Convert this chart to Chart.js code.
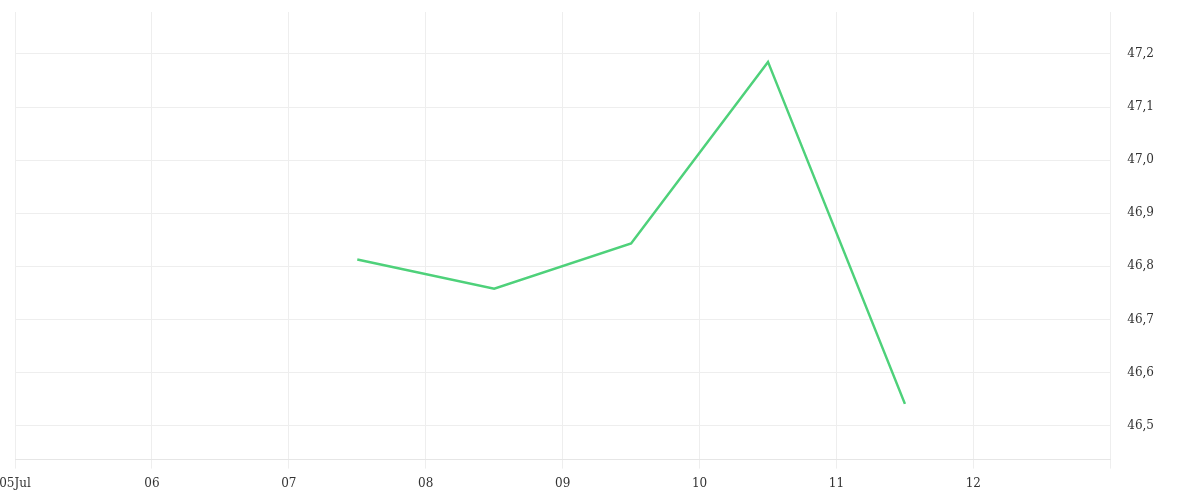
<!DOCTYPE html>
<html>
<head>
<meta charset="utf-8">
<script src="https://cdn.jsdelivr.net/npm/chart.js@4"></script>
<style>
  html, body { margin: 0; padding: 0; background: #fff; }
  #wrap { width: 1200px; height: 500px; }
</style>
</head>
<body>
<div id="wrap"><canvas id="chart"></canvas></div>
<script>
// day of July (12:00 = .5)
const days = [7.5, 8.5, 9.5, 10.5, 11.5];
const prices = [46.813, 46.758, 46.843, 47.185, 46.541];
const dayLabels = ['05Jul', '06', '07', '08', '09', '10', '11', '12'];

const points = days.map((d, i) => ({ x: d, y: prices[i] }));

const ctx = document.getElementById('chart');
new Chart(ctx, {
  type: 'line',
  data: {
    datasets: [{
      data: points,
      borderColor: '#4ed17a',
      borderWidth: 2.5,
      pointRadius: 0,
      tension: 0,
      fill: false
    }]
  },
  options: {
    responsive: true,
    maintainAspectRatio: false,
    animation: false,
    layout: { padding: { top: 12, right: 29, left: 15, bottom: 0 } },
    plugins: {
      legend: { display: false },
      tooltip: { enabled: false }
    },
    scales: {
      x: {
        type: 'linear',
        min: 5,
        max: 13,
        afterFit: (s) => { s.paddingLeft = 0; s.paddingRight = 0; s.height += 1; },
        grid: { color: '#eeeeee', tickLength: 9 },
        border: { color: '#e6e6e6' },
        ticks: {
          stepSize: 1,
          padding: 8,
          color: '#333',
          font: { family: 'DejaVu Serif', size: 12 },
          maxRotation: 0,
          callback: (v) => dayLabels[v - 5] || ''
        }
      },
      y: {
        position: 'right',
        min: 46.436,
        max: 47.279,
        afterFit: (s) => { s.paddingTop = 0; s.paddingBottom = 0; },
        grid: { color: '#eeeeee', drawTicks: false },
        border: { display: false },
        ticks: {
          stepSize: 0.1,
          includeBounds: false,
          padding: 17,
          color: '#333',
          font: { family: 'DejaVu Serif', size: 12 },
          callback: (v) => v.toFixed(1).replace('.', ',')
        }
      }
    }
  }
});
</script>
</body>
</html>
